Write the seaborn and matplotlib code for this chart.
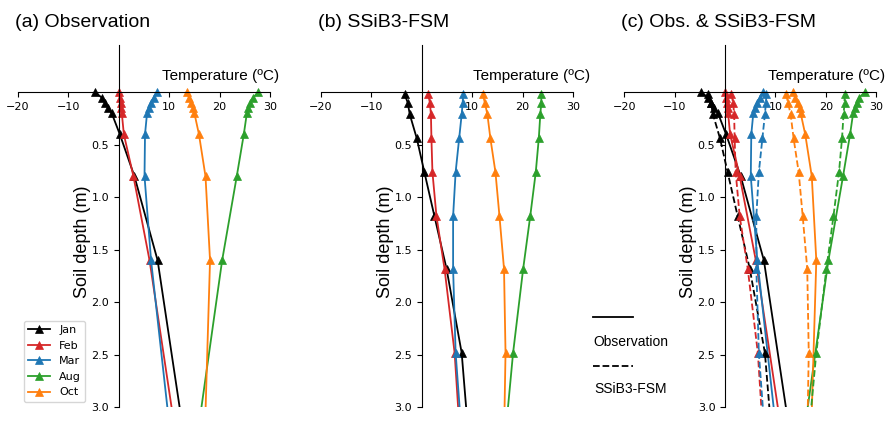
import numpy as np
import pandas as pd
import seaborn as sns
import matplotlib.pyplot as plt
from matplotlib.lines import Line2D

# soil temperature profiles (degC)
months = ['Jan', 'Feb', 'Mar', 'Aug', 'Oct']
colors = ['black', 'tab:red', 'tab:blue', 'tab:green', 'tab:orange']

obs_depth = [0.0, 0.05, 0.10, 0.15, 0.20, 0.40, 0.80, 1.60, 3.20]
obs_jan = [-4.7, -3.4, -2.7, -2.1, -1.4, 0.2, 3.1, 7.7, 12.7]
obs_feb = [0.0, 0.2, 0.4, 0.5, 0.6, 1.0, 2.9, 6.1, 11.1]
obs_mar = [7.5, 6.9, 6.3, 5.9, 5.6, 5.2, 5.1, 6.4, 10.1]
obs_aug = [27.7, 26.6, 26.1, 25.7, 25.4, 24.8, 23.4, 20.5, 15.8]
obs_oct = [13.5, 13.9, 14.4, 14.8, 15.0, 15.9, 17.2, 18.1, 17.1]

mod_depth = [0.02, 0.10, 0.21, 0.44, 0.76, 1.18, 1.68, 2.48, 3.30]
mod_jan = [-3.4, -2.8, -2.4, -1.0, 0.5, 2.5, 4.9, 7.9, 9.3]
mod_feb = [1.25, 1.6, 1.8, 1.9, 2.1, 2.9, 4.5, 6.5, 7.6]
mod_mar = [8.2, 8.1, 7.9, 7.4, 6.7, 6.2, 6.2, 6.7, 7.95]
mod_aug = [23.7, 23.7, 23.5, 23.2, 22.6, 21.5, 20.1, 18.1, 16.5]
mod_oct = [12.1, 12.5, 13.0, 13.6, 14.6, 15.4, 16.3, 16.6, 16.3]

obs = [obs_jan, obs_feb, obs_mar, obs_aug, obs_oct]
mod = [mod_jan, mod_feb, mod_mar, mod_aug, mod_oct]

titles = ['(a) Observation', '(b) SSiB3-FSM', '(c) Obs. & SSiB3-FSM']
ARIAL = 'Liberation Sans'


def profiles(ax, depth, temps, ls, labels=False):
    for m, c, t in zip(months, colors, temps):
        df = pd.DataFrame({'T': t, 'z': depth})
        sns.lineplot(data=df, x='T', y='z', ax=ax, color=c, ls=ls, lw=1.3,
                     marker='^', ms=6, mec=c, mew=0.5, sort=False,
                     estimator=None, label=m if labels else None)


fig = plt.figure(figsize=(8.95, 4.22), dpi=100)
lefts = [0.0201, 0.3587, 0.6975]
axes = [fig.add_axes([l, 0.0344, 0.2816, 0.859]) for l in lefts]

profiles(axes[0], obs_depth, obs, '-', labels=True)
profiles(axes[1], mod_depth, mod, '-')
profiles(axes[2], obs_depth, obs, '-')
profiles(axes[2], mod_depth, mod, '--')

tlabel_x = [1.035, 1.067, 1.035]
for i, ax in enumerate(axes):
    ax.set_xlim(-20, 30)
    ax.set_ylim(3.0, -0.45)
    ax.spines['left'].set_position(('data', 0))
    ax.spines['bottom'].set_position(('data', 0))
    ax.spines['top'].set_visible(False)
    ax.spines['right'].set_visible(False)
    ax.set_xticks([-20, -10, 10, 20, 30])
    ax.set_yticks([0.5, 1.0, 1.5, 2.0, 2.5, 3.0])
    ax.tick_params(labelsize=8)
    ax.set_xlabel('')
    ax.set_ylabel('Soil depth (m)', family=ARIAL, fontsize=13)
    ax.yaxis.set_label_coords(0.29, 0.458)
    ax.text(tlabel_x[i], 0.9145, 'Temperature (\u00baC)', transform=ax.transAxes,
            ha='right', va='center', family=ARIAL, fontsize=11)
    ax.text(-0.012, 1.0615, titles[i], transform=ax.transAxes,
            ha='left', va='center', family=ARIAL, fontsize=14)
    if i > 0 and ax.get_legend() is not None:
        ax.get_legend().remove()

axes[0].legend(loc='lower left', fontsize=8, labelspacing=0.5)

# line-style key between panels (b) and (c)
fig.add_artist(Line2D([0.663, 0.707], [0.248, 0.248], color='black', lw=1.3))
fig.text(0.6635, 0.190, 'Observation', family=ARIAL, fontsize=10, va='center')
fig.add_artist(Line2D([0.663, 0.707], [0.1334, 0.1334], color='black', lw=1.3, ls='--'))
fig.text(0.6635, 0.0775, 'SSiB3-FSM', family=ARIAL, fontsize=10, va='center')

fig.savefig('out.png', dpi=100)
